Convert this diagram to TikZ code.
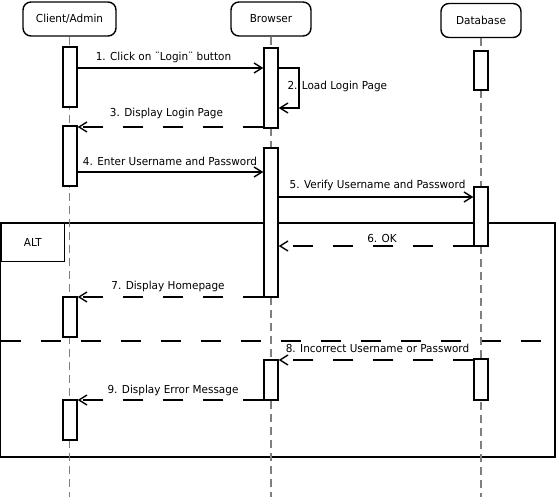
\documentclass[tikz,border=0pt]{standalone}
\usepackage{fontspec}
\setmainfont{DejaVu Sans}[FakeStretch=0.95]
\usetikzlibrary{arrows.meta}
\begin{document}
\begin{tikzpicture}
  [x=1pt,y=-1pt,every node/.style={font=\fontsize{11}{13}\selectfont},
   head/.style={draw,rounded corners=8pt,line width=1.4pt,minimum height=34pt,inner sep=0pt},
   bar/.style={draw,fill=white,line width=1.4pt,minimum width=14pt,inner sep=0pt},
   life/.style={black!50,line width=1.1pt,dash pattern=on 8pt off 5pt},
   msg/.style={line width=1.4pt,-{Straight Barb[length=8pt,width=10pt]}},
   reply/.style={msg,dash pattern=on 20pt off 20pt}]
  \useasboundingbox (0,0) rectangle (557,497);

  % alt frame
  \draw[line width=1.4pt] (0.7,223) rectangle (555,457);
  \draw[line width=1.4pt,dash pattern=on 20pt off 20pt] (0.7,341) -- (555,341);
  \node[draw,line width=1.4pt,minimum width=63pt,minimum height=38pt,anchor=north west] (alt) at (0.7,223) {ALT};

  \node[head,minimum width=93pt] (client) at (69.5,19) {Client/Admin};
  \node[head,minimum width=80pt] (browser) at (271,19) {Browser};
  \node[head,minimum width=80pt] (db) at (481,20.5) {Database};

  \coordinate (bottom) at (0,497);
  \foreach \h in {client,browser,db}
    \draw[life] (\h.south) -- (\h.south |- bottom);

  \node[bar,minimum height=60pt] (cb1) at (70,77) {};
  \node[bar,minimum height=60pt] (cb2) at (70,156) {};
  \node[bar,minimum height=40pt] (cb3) at (70,317) {};
  \node[bar,minimum height=40pt] (cb4) at (70,420) {};
  \node[bar,minimum height=80pt] (bb1) at (271,88) {};
  \node[bar,minimum height=149pt] (bb2) at (271,222.5) {};
  \node[bar,minimum height=40pt] (bb3) at (271,380) {};
  \node[bar,minimum height=39pt] (db1) at (481,70.5) {};
  \node[bar,minimum height=59pt] (db2) at (481,216.5) {};
  \node[bar,minimum height=41pt] (db3) at (481,379.5) {};

  \foreach \n/\y in {1/68,2/108,3/127,4/172,5/197,6/246,7/297,8/360,9/400}
    \coordinate (y\n) at (0,\y);
  \coordinate (s2) at (299,0);

  \draw[msg] (cb1.east |- y1) -- (bb1.west |- y1);
  \draw[msg] (bb1.east |- y1) -- (s2 |- y1) -- (s2 |- y2) -- (bb1.east |- y2);
  \draw[reply] (bb1.west |- y3) -- (cb2.east |- y3);
  \draw[msg] (cb2.east |- y4) -- (bb2.west |- y4);
  \draw[msg] (bb2.east |- y5) -- (db2.west |- y5);
  \draw[reply] (db2.west |- y6) -- (bb2.east |- y6);
  \draw[reply] (bb2.west |- y7) -- (cb3.east |- y7);
  \draw[reply] (db3.west |- y8) -- (bb3.east |- y8);
  \draw[reply] (bb3.west |- y9) -- (cb4.east |- y9);

  \node (l1) at (163.5,57) {1. Click on ¨Login¨ button};
  \node[anchor=west] (l2) at (284,86) {2. Load Login Page};
  \node (l3) at (166.5,113) {3. Display Login Page};
  \node (l4) at (170,161) {4. Enter Username and Password};
  \node (l5) at (377.5,185) {5. Verify Username and Password};
  \node (l6) at (382,238) {6. OK};
  \node (l7) at (168,286) {7. Display Homepage};
  \node (l8) at (377.5,348) {8. Incorrect Username or Password};
  \node (l9) at (173,390) {9. Display Error Message};
\end{tikzpicture}
\end{document}
